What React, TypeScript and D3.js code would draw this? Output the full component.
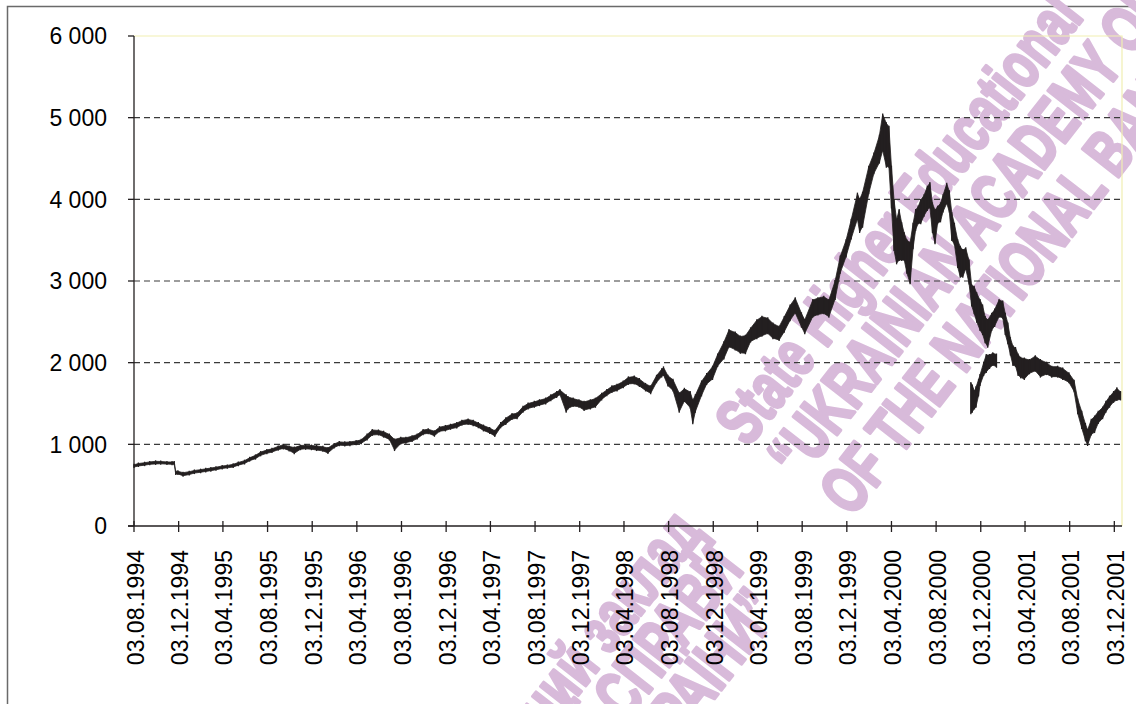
import * as d3 from 'd3';
import { useEffect, useRef } from 'react';

const WIDTH = 1136;
const HEIGHT = 704;

// date axis labels, one every 4 months
const tickLabels = [
  '03.08.1994', '03.12.1994', '03.04.1995', '03.08.1995', '03.12.1995', '03.04.1996',
  '03.08.1996', '03.12.1996', '03.04.1997', '03.08.1997', '03.12.1997', '03.04.1998',
  '03.08.1998', '03.12.1998', '03.04.1999', '03.08.1999', '03.12.1999', '03.04.2000',
  '03.08.2000', '03.12.2000', '03.04.2001', '03.08.2001', '03.12.2001'
];

const yTicks = [0, 1000, 2000, 3000, 4000, 5000, 6000];

// index readings (high / low)
const dates = [
  '1994-08-03', '1994-08-15', '1994-09-01', '1994-09-15', '1994-10-01', '1994-10-15', '1994-11-01', '1994-11-15', '1994-11-21', '1994-11-25', '1994-12-01', '1994-12-15',
  '1995-01-01', '1995-01-15', '1995-02-01', '1995-02-15', '1995-03-01', '1995-03-15', '1995-04-01', '1995-04-15', '1995-05-01', '1995-05-15', '1995-06-01', '1995-06-15',
  '1995-07-01', '1995-07-15', '1995-08-01', '1995-08-15', '1995-09-01', '1995-09-15', '1995-10-01', '1995-10-15', '1995-11-01', '1995-11-15', '1995-12-01', '1995-12-15',
  '1996-01-01', '1996-01-15', '1996-02-01', '1996-02-15', '1996-03-01', '1996-03-15', '1996-04-01', '1996-04-15', '1996-05-01', '1996-05-15', '1996-06-01', '1996-06-15',
  '1996-07-01', '1996-07-15', '1996-08-01', '1996-08-15', '1996-09-01', '1996-09-15', '1996-10-01', '1996-10-15', '1996-11-01', '1996-11-15', '1996-12-01', '1996-12-15',
  '1997-01-01', '1997-01-15', '1997-02-01', '1997-02-15', '1997-03-01', '1997-03-15', '1997-04-01', '1997-04-15', '1997-05-01', '1997-05-15', '1997-06-01', '1997-06-15',
  '1997-07-01', '1997-07-15', '1997-08-01', '1997-08-15', '1997-09-01', '1997-09-15', '1997-10-01', '1997-10-10', '1997-10-27', '1997-11-01', '1997-11-15', '1997-12-01', '1997-12-15',
  '1998-01-01', '1998-01-15', '1998-02-01', '1998-02-15', '1998-03-01', '1998-03-15', '1998-04-01', '1998-04-15', '1998-05-01', '1998-05-15', '1998-06-01', '1998-06-15', '1998-07-01',
  '1998-07-15', '1998-07-20', '1998-08-01', '1998-08-15', '1998-09-01', '1998-09-15', '1998-10-01', '1998-10-08', '1998-10-15', '1998-11-01', '1998-11-15', '1998-12-01', '1998-12-15',
  '1999-01-01', '1999-01-15', '1999-02-01', '1999-02-15', '1999-03-01', '1999-03-15', '1999-04-01', '1999-04-15', '1999-05-01', '1999-05-15', '1999-06-01', '1999-06-15',
  '1999-07-01', '1999-07-15', '1999-08-01', '1999-08-10', '1999-09-01', '1999-09-15', '1999-10-01', '1999-10-15', '1999-11-01', '1999-11-15', '1999-12-01', '1999-12-15',
  '2000-01-01', '2000-01-07', '2000-01-15', '2000-02-01', '2000-02-15', '2000-03-01', '2000-03-10', '2000-03-20', '2000-03-27', '2000-04-03', '2000-04-10', '2000-04-17',
  '2000-04-24', '2000-05-01', '2000-05-08', '2000-05-15', '2000-05-24', '2000-06-01', '2000-06-08', '2000-06-15', '2000-06-22', '2000-07-01', '2000-07-10', '2000-07-17',
  '2000-07-24', '2000-07-31', '2000-08-07', '2000-08-15', '2000-08-22', '2000-09-01', '2000-09-08', '2000-09-15', '2000-09-22', '2000-10-01', '2000-10-08', '2000-10-15',
  '2000-10-23', '2000-11-01', '2000-11-08', '2000-11-15', '2000-11-22', '2000-12-01', '2000-12-08', '2000-12-15', '2000-12-22',
  '2001-01-02', '2001-01-10', '2001-01-22', '2001-02-01', '2001-02-08', '2001-02-15', '2001-02-22', '2001-03-01', '2001-03-08', '2001-03-15', '2001-03-22', '2001-04-01',
  '2001-04-15', '2001-05-01', '2001-05-15', '2001-06-01', '2001-06-15', '2001-07-01', '2001-07-15', '2001-08-01', '2001-08-15', '2001-08-25', '2001-09-05', '2001-09-15',
  '2001-09-21', '2001-10-01', '2001-10-10', '2001-10-20', '2001-11-01', '2001-11-10', '2001-11-20', '2001-12-01', '2001-12-10', '2001-12-20'
];

const highs = [
  750, 765, 775, 785, 792, 790, 785, 783, 785, 668, 670, 653,
  665, 680, 690, 700, 710, 720, 735, 742, 755, 778, 800, 835,
  865, 905, 930, 945, 975, 995, 975, 960, 985, 990, 985, 980,
  970, 955, 1005, 1030, 1025, 1030, 1040, 1055, 1120, 1176, 1170, 1155,
  1120, 1060, 1080, 1080, 1100, 1120, 1175, 1185, 1160, 1210, 1225, 1240,
  1260, 1290, 1305, 1290, 1260, 1230, 1200, 1165, 1260, 1320, 1370, 1380,
  1460, 1500, 1520, 1540, 1560, 1600, 1640, 1665, 1600, 1580, 1560, 1540, 1520,
  1540, 1560, 1620, 1665, 1710, 1730, 1770, 1820, 1830, 1800, 1740, 1710, 1840,
  1920, 1943, 1840, 1790, 1625, 1680, 1640, 1540, 1600, 1770, 1860, 1950, 2100,
  2250, 2400, 2370, 2320, 2330, 2420, 2520, 2563, 2543, 2480, 2441, 2560,
  2700, 2790, 2604, 2522, 2767, 2790, 2808, 2767, 3000, 3300, 3500, 3750,
  4070, 4000, 4080, 4400, 4560, 4780, 5040, 4931, 4890, 4400, 3992, 3750,
  3869, 3706, 3584, 3500, 3470, 3700, 3869, 3910, 3992, 4050, 4155, 4200,
  3950, 3869, 3910, 3950, 4050, 4190, 4100, 3829, 3700, 3500, 3420, 3380,
  3400, 3250, 2950, 2930, 2850, 2767, 2700, 2560, 2522,
  2600, 2650, 2767, 2750, 2600, 2480, 2300, 2200, 2180, 2100, 2060, 2050,
  2033, 2080, 2033, 2000, 1951, 1951, 1930, 1870, 1780, 1550, 1400, 1250,
  1176, 1300, 1340, 1400, 1450, 1520, 1584, 1640, 1686, 1640
];

const lows = [
  722, 735, 745, 755, 760, 762, 758, 755, 757, 636, 637, 616,
  630, 648, 658, 668, 678, 688, 705, 712, 722, 745, 765, 800,
  825, 865, 890, 905, 935, 950, 925, 890, 940, 945, 940, 930,
  920, 895, 960, 990, 985, 990, 1000, 1012, 1060, 1114, 1120, 1094,
  1060, 930, 1010, 1020, 1040, 1070, 1125, 1135, 1105, 1160, 1170, 1190,
  1205, 1240, 1250, 1235, 1210, 1170, 1140, 1102, 1210, 1250, 1310, 1320,
  1400, 1440, 1460, 1480, 1500, 1540, 1580, 1610, 1400, 1440, 1470, 1460, 1420,
  1440, 1460, 1550, 1600, 1640, 1660, 1700, 1740, 1745, 1715, 1660, 1625, 1760,
  1830, 1850, 1720, 1660, 1400, 1530, 1450, 1258, 1400, 1600, 1740, 1800, 1960,
  2050, 2196, 2160, 2120, 2115, 2260, 2300, 2330, 2359, 2300, 2278, 2380,
  2520, 2610, 2441, 2359, 2563, 2590, 2604, 2563, 2780, 3100, 3300, 3520,
  3760, 3600, 3665, 4073, 4318, 4450, 4600, 4400, 4400, 3900, 3380, 3216,
  3257, 3257, 3257, 3100, 2971, 3400, 3625, 3706, 3706, 3800, 3869, 3900,
  3600, 3461, 3706, 3730, 3850, 3951, 3850, 3502, 3450, 3170, 3053, 3053,
  3150, 2970, 2700, 2604, 2500, 2400, 2350, 2250, 2196,
  2400, 2450, 2563, 2550, 2350, 2237, 2100, 1970, 1960, 1850, 1820, 1800,
  1870, 1900, 1829, 1860, 1829, 1829, 1800, 1760, 1650, 1380, 1200, 1050,
  992, 1120, 1150, 1260, 1320, 1400, 1461, 1520, 1543, 1550
];

// second, lower cluster of bars around the turn of 2000/2001
const lateDates = [
  '2000-11-06', '2000-11-10', '2000-11-16', '2000-11-20', '2000-11-27', '2000-12-01',
  '2000-12-11', '2000-12-18', '2000-12-27', '2001-01-05', '2001-01-15'
];
const lateHighs = [1750, 1720, 1650, 1700, 1790, 1850, 2000, 2094, 2094, 2115, 2100];
const lateLows = [1380, 1400, 1440, 1460, 1600, 1727, 1850, 1886, 1935, 1972, 1950];

// background stamp of the source document
const stampEn = [
  'State Higher Educational',
  '\u201CUKRAINIAN ACADEMY OF',
  'OF THE NATIONAL BANK'
];
const stampUa = [
  'навчальний заклад',
  'БАНКІВСЬКОЇ СПРАВИ',
  'БАНКУ УКРАЇНИ\u201D'
];

const INK = '#231f20';
const FONT = '"Liberation Sans", Arial, sans-serif';

export default function App() {
  const svgRef = useRef<SVGSVGElement>(null);

  useEffect(() => {
    if (!svgRef.current) return;
    const svg = d3.select(svgRef.current);
    svg.selectAll('*').remove();

    const plot = { left: 134, right: 1122, top: 36, bottom: 526 };
    const parseIso = d3.timeParse('%Y-%m-%d');
    const parseTick = d3.timeParse('%d.%m.%Y');

    const x = d3.scaleTime()
      .domain([new Date(1994, 7, 3), new Date(2001, 11, 24)])
      .range([plot.left, plot.right]);

    const y = d3.scaleLinear()
      .domain([0, 6000])
      .range([plot.bottom, plot.top]);

    const rows = dates.map((d, i) => ({ date: parseIso(d) as Date, high: highs[i], low: lows[i] }));
    const lateRows = lateDates.map((d, i) => ({ date: parseIso(d) as Date, high: lateHighs[i], low: lateLows[i] }));

    // outer frame
    svg.append('rect')
      .attr('x', 7.5).attr('y', 6.5)
      .attr('width', 1140).attr('height', 710)
      .attr('fill', '#fff')
      .attr('stroke', '#6a6a6a')
      .attr('stroke-width', 1.5);

    // stamp (heavy, condensed lettering)
    const stamp = svg.append('g')
      .attr('fill', '#d8bada')
      .attr('stroke', '#d8bada')
      .attr('stroke-width', 3.5)
      .attr('stroke-linejoin', 'round')
      .style('font-family', FONT)
      .style('font-weight', 'bold')
      .style('font-size', '66px');

    const enStarts: [number, number][] = [[748, 448], [800, 482], [852, 518]];
    stampEn.forEach((t, i) => {
      stamp.append('text')
        .attr('transform', `translate(${enStarts[i][0]},${enStarts[i][1]}) rotate(-52) scale(0.7,1)`)
        .text(t);
    });
    const uaEnds: [number, number][] = [[705, 533], [745, 570], [782, 612]];
    stampUa.forEach((t, i) => {
      stamp.append('text')
        .attr('transform', `translate(${uaEnds[i][0]},${uaEnds[i][1]}) rotate(-52) scale(0.7,1)`)
        .attr('text-anchor', 'end')
        .text(t);
    });

    // gridlines
    svg.append('g')
      .selectAll('line')
      .data(yTicks.filter(v => v > 0 && v < 6000))
      .enter()
      .append('line')
      .attr('x1', plot.left).attr('x2', plot.right)
      .attr('y1', d => y(d)).attr('y2', d => y(d))
      .attr('stroke', '#3a3a3a')
      .attr('stroke-width', 1.1)
      .attr('stroke-dasharray', '6 4');

    // plot area border (top and right)
    svg.append('path')
      .attr('d', `M${plot.left},${plot.top}H${plot.right}V${plot.bottom}`)
      .attr('fill', 'none')
      .attr('stroke', '#f1efb2')
      .attr('stroke-width', 1.2);

    // high-low band
    const band = d3.area<{ date: Date; high: number; low: number }>()
      .x(d => x(d.date))
      .y0(d => y(d.low))
      .y1(d => y(d.high));

    [rows, lateRows].forEach(set => {
      svg.append('path')
        .datum(set)
        .attr('d', band)
        .attr('fill', INK)
        .attr('stroke', INK)
        .attr('stroke-width', 0.8)
        .attr('stroke-linejoin', 'round');

      svg.append('g')
        .selectAll('line')
        .data(set)
        .enter()
        .append('line')
        .attr('x1', d => x(d.date)).attr('x2', d => x(d.date))
        .attr('y1', d => y(d.high) - 1).attr('y2', d => y(d.low) + 1)
        .attr('stroke', INK)
        .attr('stroke-width', 1.3);
    });

    // y axis
    const yAxis = svg.append('g').attr('stroke', INK);
    yAxis.append('line')
      .attr('x1', plot.left).attr('x2', plot.left)
      .attr('y1', plot.top).attr('y2', plot.bottom)
      .attr('stroke-width', 1.3);
    yAxis.selectAll('.tick')
      .data(yTicks)
      .enter()
      .append('line')
      .attr('x1', plot.left - 6).attr('x2', plot.left)
      .attr('y1', d => y(d)).attr('y2', d => y(d))
      .attr('stroke-width', 1.3);

    const fmt = (v: number) => d3.format(',')(v).replace(/,/g, ' ');
    svg.append('g')
      .selectAll('text')
      .data(yTicks)
      .enter()
      .append('text')
      .attr('x', 107)
      .attr('y', d => y(d))
      .attr('dy', '0.36em')
      .attr('text-anchor', 'end')
      .style('font-family', FONT)
      .style('font-size', '23px')
      .attr('fill', '#000')
      .text(d => fmt(d));

    // x axis
    const xAxis = svg.append('g').attr('stroke', INK);
    xAxis.append('line')
      .attr('x1', plot.left - 6).attr('x2', plot.right)
      .attr('y1', plot.bottom).attr('y2', plot.bottom)
      .attr('stroke-width', 1.3);
    xAxis.selectAll('.tick')
      .data(tickLabels)
      .enter()
      .append('line')
      .attr('x1', d => x(parseTick(d) as Date)).attr('x2', d => x(parseTick(d) as Date))
      .attr('y1', plot.bottom - 5).attr('y2', plot.bottom + 6)
      .attr('stroke-width', 1.3);

    svg.append('g')
      .selectAll('text')
      .data(tickLabels)
      .enter()
      .append('text')
      .attr('transform', d => `translate(${x(parseTick(d) as Date) + 9.5},550) rotate(-90)`)
      .attr('text-anchor', 'end')
      .style('font-family', FONT)
      .style('font-size', '23px')
      .attr('fill', '#000')
      .text(d => d);
  }, []);

  return (
    <svg
      ref={svgRef}
      width={WIDTH}
      height={HEIGHT}
      style={{ position: 'absolute', left: 0, top: 0, background: '#fff' }}
    />
  );
}
